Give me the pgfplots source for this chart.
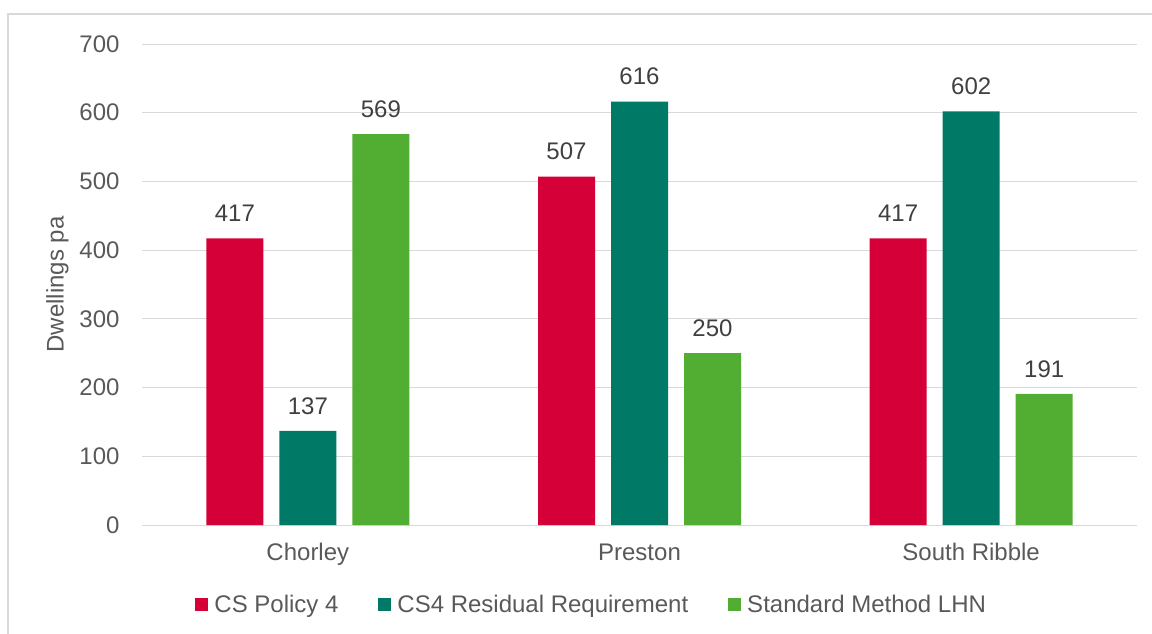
\documentclass[border=0pt]{standalone}
\usepackage{pgfplots}
\pgfplotsset{compat=1.18}
\usepackage{fontspec}
\setmainfont{Liberation Sans}
\definecolor{cred}{RGB}{214,0,57}
\definecolor{cteal}{RGB}{0,122,102}
\definecolor{cgreen}{RGB}{82,174,50}
\definecolor{txt}{RGB}{89,89,89}
\definecolor{lbl}{RGB}{64,64,64}
\definecolor{gridc}{RGB}{217,217,217}
\begin{document}
\begin{tikzpicture}
\path[use as bounding box] (0bp,0bp) rectangle (1152bp,-634bp);
\draw[gridc, line width=1.2bp] (8bp,-640bp) |- (1160bp,-14bp);
\begin{axis}[
  at={(142bp,-525bp)}, anchor=south west,
  scale only axis, width=995bp, height=481bp,
  xmin=-0.5, xmax=2.5, ymin=0, ymax=700,
  ytick={0,100,...,700},
  xtick=data,
  xticklabels={Chorley,Preston,South Ribble},
  ybar=16bp, bar width=57bp,
  axis line style={draw=none},
  major tick length=0pt,
  xtick style={draw=none}, ytick style={draw=none},
  ymajorgrids, xmajorgrids=false,
  grid style={draw=gridc, line width=1bp},
  font=\fontsize{24bp}{28bp}\selectfont,
  ticklabel style={text=txt, font=\fontsize{24bp}{28bp}\selectfont},
  /pgf/number format/assume math mode=true,
  yticklabel style={xshift=-19bp},
  xticklabel style={yshift=-15bp},
  every axis y label/.style={at={(axis description cs:-0.085,0.5)}, rotate=90, anchor=center, text=txt, font=\fontsize{24bp}{28bp}\selectfont},
  ylabel={Dwellings pa},
  nodes near coords,
  nodes near coords style={text=lbl, font=\fontsize{24bp}{28bp}\selectfont, yshift=13bp},
  legend columns=3,
  legend style={at={(axis description cs:0.452,-0.166)}, anchor=center, draw=none, fill=none,
    text=txt, font=\fontsize{24bp}{28bp}\selectfont,
    /tikz/every odd column/.append style={column sep=4bp},
    /tikz/every even column/.append style={column sep=38bp}},
  legend image code/.code={\fill[#1] (0bp,-6.5bp) rectangle (13bp,6.5bp);},
]
\addplot[fill=cred, draw=none] coordinates {(0,417) (1,507) (2,417)};
\addplot[fill=cteal, draw=none] coordinates {(0,137) (1,616) (2,602)};
\addplot[fill=cgreen, draw=none] coordinates {(0,569) (1,250) (2,191)};
\legend{CS Policy 4, CS4 Residual Requirement, Standard Method LHN}
\end{axis}
\end{tikzpicture}
\end{document}
